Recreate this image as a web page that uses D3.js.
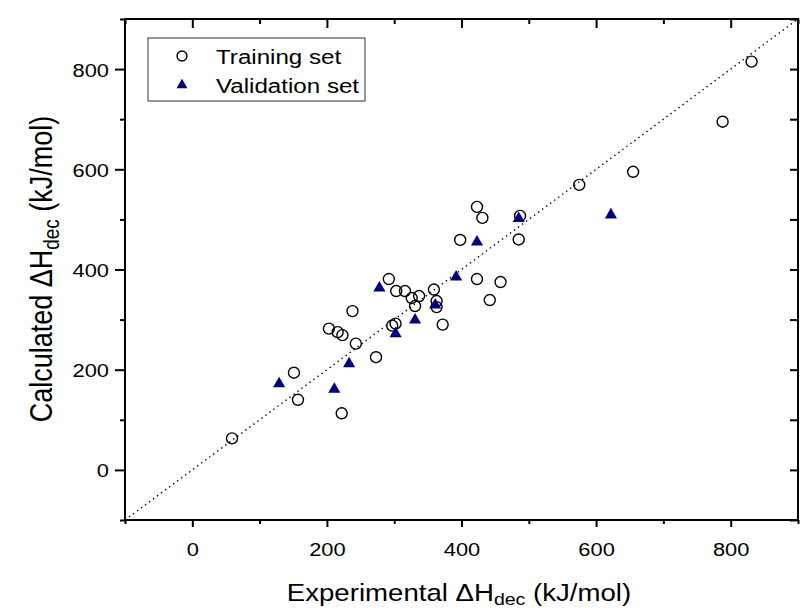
<!DOCTYPE html>
<html>
<head>
<meta charset="utf-8">
<script src="https://cdn.jsdelivr.net/npm/d3@7"></script>
<style>
  body { margin: 0; background: #fff; }
  svg { display: block; font-family: "Liberation Sans", Arial, sans-serif; }
</style>
</head>
<body>
<svg id="viz" width="809" height="608"></svg>
<script>
// training set: experimental vs calculated (kJ/mol)
var trainX = [59, 151, 157, 203, 216, 223, 238, 243, 273, 222, 292, 297, 302, 303, 316, 326, 337, 331,
  359, 363, 363, 372, 398, 423, 431, 423, 458, 442, 487, 485, 575, 655, 788, 831];
var trainY = [63, 194, 140, 282, 275, 269, 317, 252, 225, 113, 381, 288, 292, 357, 357, 343, 347, 327,
  360, 337, 325, 290, 459, 525, 503, 381, 375, 339, 507, 460, 569, 595, 695, 815];

// validation set
var validX = [129, 211, 233, 278, 302, 331, 361, 392, 423, 485, 622];
var validY = [172, 161, 212, 363, 272, 299, 329, 385, 455, 502, 509];

var majorTicks = [0, 200, 400, 600, 800];
var minorTicks = [-100, 100, 300, 500, 700, 900];
var legendLabels = ["Training set", "Validation set"];

var svg = d3.select("#viz"),
  width = +svg.attr("width"),
  height = +svg.attr("height");

var pLeft = 125, pRight = 798, pTop = 19, pBottom = 520;
var sx = 1.15; // glyphs in the reference are a bit wide

var x = d3.scaleLinear().domain([-100, 900]).range([pLeft, pRight]);
var y = d3.scaleLinear().domain([-100, 900]).range([pBottom, pTop]);

svg.append("rect").attr("width", width).attr("height", height).attr("fill", "#fff");

// diagonal y = x
svg.append("line")
  .attr("x1", x(-100)).attr("y1", y(-100))
  .attr("x2", x(900)).attr("y2", y(900))
  .attr("stroke", "#000")
  .attr("stroke-width", 1.4)
  .attr("stroke-dasharray", "1.4,3.6");

function styleAxis(g) {
  g.select(".domain").remove();
  g.selectAll("line").attr("stroke", "#000").attr("stroke-width", 2);
}

// bottom axis
svg.append("g").attr("transform", "translate(0," + pBottom + ")")
  .call(d3.axisBottom(x).tickValues(minorTicks).tickSize(4).tickFormat(""))
  .call(styleAxis);
var xb = svg.append("g").attr("transform", "translate(0," + pBottom + ")")
  .call(d3.axisBottom(x).tickValues(majorTicks).tickSize(7).tickFormat(d3.format("d")))
  .call(styleAxis);
xb.selectAll("text")
  .attr("y", null).attr("dy", null)
  .attr("transform", "translate(0,36) scale(" + sx + ",1)")
  .attr("fill", "#000").style("font-size", "19px").style("font-family", "Liberation Sans, Arial, sans-serif");

// left axis
svg.append("g").attr("transform", "translate(" + pLeft + ",0)")
  .call(d3.axisLeft(y).tickValues(minorTicks).tickSize(5).tickFormat(""))
  .call(styleAxis);
var yl = svg.append("g").attr("transform", "translate(" + pLeft + ",0)")
  .call(d3.axisLeft(y).tickValues(majorTicks).tickSize(10).tickFormat(d3.format("d")))
  .call(styleAxis);
yl.selectAll("text")
  .attr("x", null).attr("dy", null)
  .attr("transform", "translate(-16,7) scale(" + sx + ",1)")
  .attr("fill", "#000").style("font-size", "19px").style("font-family", "Liberation Sans, Arial, sans-serif");

// top axis (ticks inward)
svg.append("g").attr("transform", "translate(0," + pTop + ")")
  .call(d3.axisBottom(x).tickValues(majorTicks).tickSize(9).tickFormat(""))
  .call(styleAxis);
svg.append("g").attr("transform", "translate(0," + pTop + ")")
  .call(d3.axisBottom(x).tickValues(minorTicks).tickSize(5).tickFormat(""))
  .call(styleAxis);

// right axis (ticks inward)
svg.append("g").attr("transform", "translate(" + pRight + ",0)")
  .call(d3.axisLeft(y).tickValues(majorTicks.concat(minorTicks)).tickSize(8).tickFormat(""))
  .call(styleAxis);

// frame
svg.append("rect")
  .attr("x", pLeft).attr("y", pTop)
  .attr("width", pRight - pLeft).attr("height", pBottom - pTop)
  .attr("fill", "none").attr("stroke", "#000").attr("stroke-width", 2);

// points
var train = trainX.map(function(d, i) { return [d, trainY[i]]; });
var valid = validX.map(function(d, i) { return [d, validY[i]]; });

svg.append("g").selectAll("circle")
  .data(train).enter().append("circle")
  .attr("cx", function(d) { return x(d[0]); })
  .attr("cy", function(d) { return y(d[1]); })
  .attr("r", 5.5)
  .attr("fill", "none")
  .attr("stroke", "#000")
  .attr("stroke-width", 1.4);

var tri = d3.symbol().type(d3.symbolTriangle).size(64);
svg.append("g").selectAll("path")
  .data(valid).enter().append("path")
  .attr("d", tri)
  .attr("transform", function(d) { return "translate(" + x(d[0]) + "," + y(d[1]) + ")"; })
  .attr("fill", "#000080");

// legend
var lg = svg.append("g");
lg.append("rect")
  .attr("x", 148).attr("y", 38).attr("width", 217).attr("height", 63)
  .attr("fill", "#fff").attr("stroke", "#333").attr("stroke-width", 1);
lg.append("circle").attr("cx", 182).attr("cy", 56).attr("r", 5)
  .attr("fill", "none").attr("stroke", "#000").attr("stroke-width", 1.4);
lg.append("path").attr("d", d3.symbol().type(d3.symbolTriangle).size(52))
  .attr("transform", "translate(182,85)").attr("fill", "#000080");
legendLabels.forEach(function(t, i) {
  lg.append("text")
    .attr("transform", "translate(216," + (64 + i * 29) + ") scale(" + sx + ",1)")
    .style("font-size", "21px")
    .text(t);
});

// axis titles
var xt = svg.append("text")
  .attr("transform", "translate(459,601) scale(" + sx + ",1)")
  .attr("text-anchor", "middle")
  .style("font-size", "24px");
xt.append("tspan").text("Experimental \u0394H");
xt.append("tspan").attr("dy", 4).style("font-size", "17px").text("dec");
xt.append("tspan").attr("dy", -4).text(" (kJ/mol)");

var yt = svg.append("text")
  .attr("transform", "translate(52,269) scale(" + sx + ",1) rotate(-90)")
  .attr("text-anchor", "middle")
  .style("font-size", "27px");
yt.append("tspan").text("Calculated \u0394H");
yt.append("tspan").attr("dy", 6).style("font-size", "19px").text("dec");
yt.append("tspan").attr("dy", -6).text(" (kJ/mol)");
</script>
</body>
</html>
